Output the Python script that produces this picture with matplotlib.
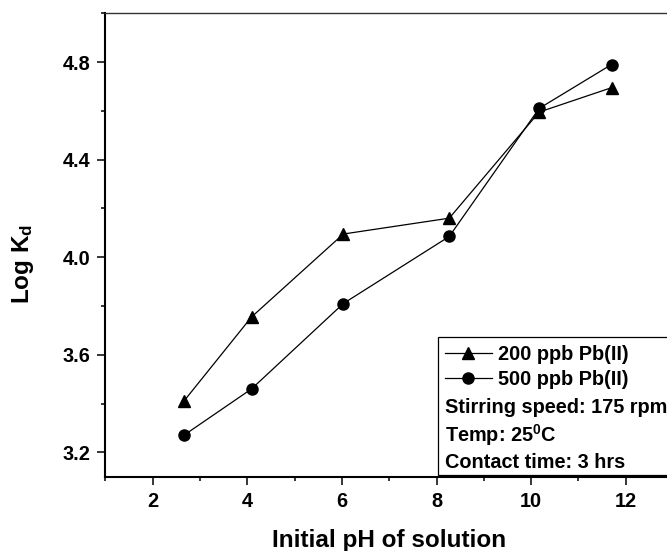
import matplotlib
matplotlib.use('Agg')
import matplotlib.pyplot as plt
from matplotlib.patches import Rectangle
from matplotlib.ticker import MultipleLocator, FormatStrFormatter

# ---- data ----
ph_200 = [2.66, 4.09, 6.03, 8.27, 10.17, 11.70]
logkd_200 = [3.41, 3.755, 4.095, 4.16, 4.595, 4.695]
ph_500 = [2.66, 4.09, 6.03, 8.27, 10.17, 11.70]
logkd_500 = [3.27, 3.46, 3.81, 4.085, 4.61, 4.79]
series_labels = ['200 ppb Pb(II)', '500 ppb Pb(II)']
conditions = ['Stirring speed: 175 rpm', r'Temp: 25$^{\mathbf{0}}$C', 'Contact time: 3 hrs']
xlabel = 'Initial pH of solution'
ylabel = r'Log K$_{\mathbf{d}}$'

plt.rcParams['font.family'] = ['Liberation Sans', 'DejaVu Sans']
plt.rcParams['font.weight'] = 'bold'
plt.rcParams['mathtext.fontset'] = 'custom'
plt.rcParams['mathtext.bf'] = 'Liberation Sans:bold'
plt.rcParams['mathtext.rm'] = 'Liberation Sans:bold'
plt.rcParams['mathtext.default'] = 'bf'

W, H = 667, 551
fig = plt.figure(figsize=(W / 100, H / 100), dpi=100)


def fx(px):
    return px / W


def fy(py):
    return 1 - py / H


L, R, T, B = 105.4, 673.0, 13.3, 476.7
ax = fig.add_axes([fx(L), fy(B), (R - L) / W, (B - T) / H])

ax.plot(ph_200, logkd_200, color='black', lw=0.9, marker='^', ms=9,
        label=series_labels[0], zorder=2)
ax.plot(ph_500, logkd_500, color='black', lw=0.9, marker='o', ms=8,
        label=series_labels[1], zorder=2)

ax.set_xlim(1, 13)
ax.set_ylim(3.1, 5.0)
ax.xaxis.set_major_locator(MultipleLocator(2))
ax.xaxis.set_minor_locator(MultipleLocator(1))
ax.yaxis.set_major_locator(MultipleLocator(0.4))
ax.yaxis.set_minor_locator(MultipleLocator(0.2))
ax.xaxis.set_major_formatter(FormatStrFormatter('%d'))
ax.yaxis.set_major_formatter(FormatStrFormatter('%.1f'))

FS = 14.3
ax.tick_params(which='major', direction='out', length=6, width=1.1,
               labelsize=FS, pad=5, top=False, right=False)
ax.tick_params(which='minor', direction='out', length=3, width=1.1,
               top=False, right=False)
for lab in ax.get_xticklabels() + ax.get_yticklabels():
    lab.set_fontweight('bold')

ax.spines['left'].set_linewidth(1.5)
ax.spines['bottom'].set_linewidth(1.5)
ax.spines['top'].set_linewidth(1.0)
ax.spines['top'].set_color('#333333')
ax.spines['right'].set_linewidth(1.0)

ax.set_xlabel(xlabel, fontsize=17.5, fontweight='bold')
ax.xaxis.label.set_va('baseline')
ax.xaxis.set_label_coords(0.5, (B - 546.7) / (B - T))

ax.set_ylabel(ylabel, fontsize=17.5, fontweight='bold')
ax.yaxis.label.set_va('baseline')
ax.yaxis.set_label_coords((29 - L) / (R - L), (B - 264) / (B - T))

# info box (drawn in the axes, below the legend)
box = Rectangle((fx(438.3), fy(474.5)), 1.0, (474.5 - 337.3) / H,
                transform=fig.transFigure, fill=True, facecolor='white',
                edgecolor='black', lw=0.9, clip_on=False, zorder=3)
ax.add_artist(box)

leg = ax.legend(loc='upper left', bbox_to_anchor=(fx(445), fy(344.5)),
                bbox_transform=fig.transFigure, frameon=False, borderpad=0,
                borderaxespad=0, handlelength=2.35, handletextpad=0.3,
                labelspacing=0.33, prop={'size': FS, 'weight': 'bold'})
leg.set_zorder(6)

for txt, base in zip(conditions, [412.7, 441.5, 468.3]):
    fig.text(fx(445), fy(base), txt, fontsize=FS, fontweight='bold',
             va='baseline', ha='left', zorder=7)

fig.savefig('out.png', dpi=100)
